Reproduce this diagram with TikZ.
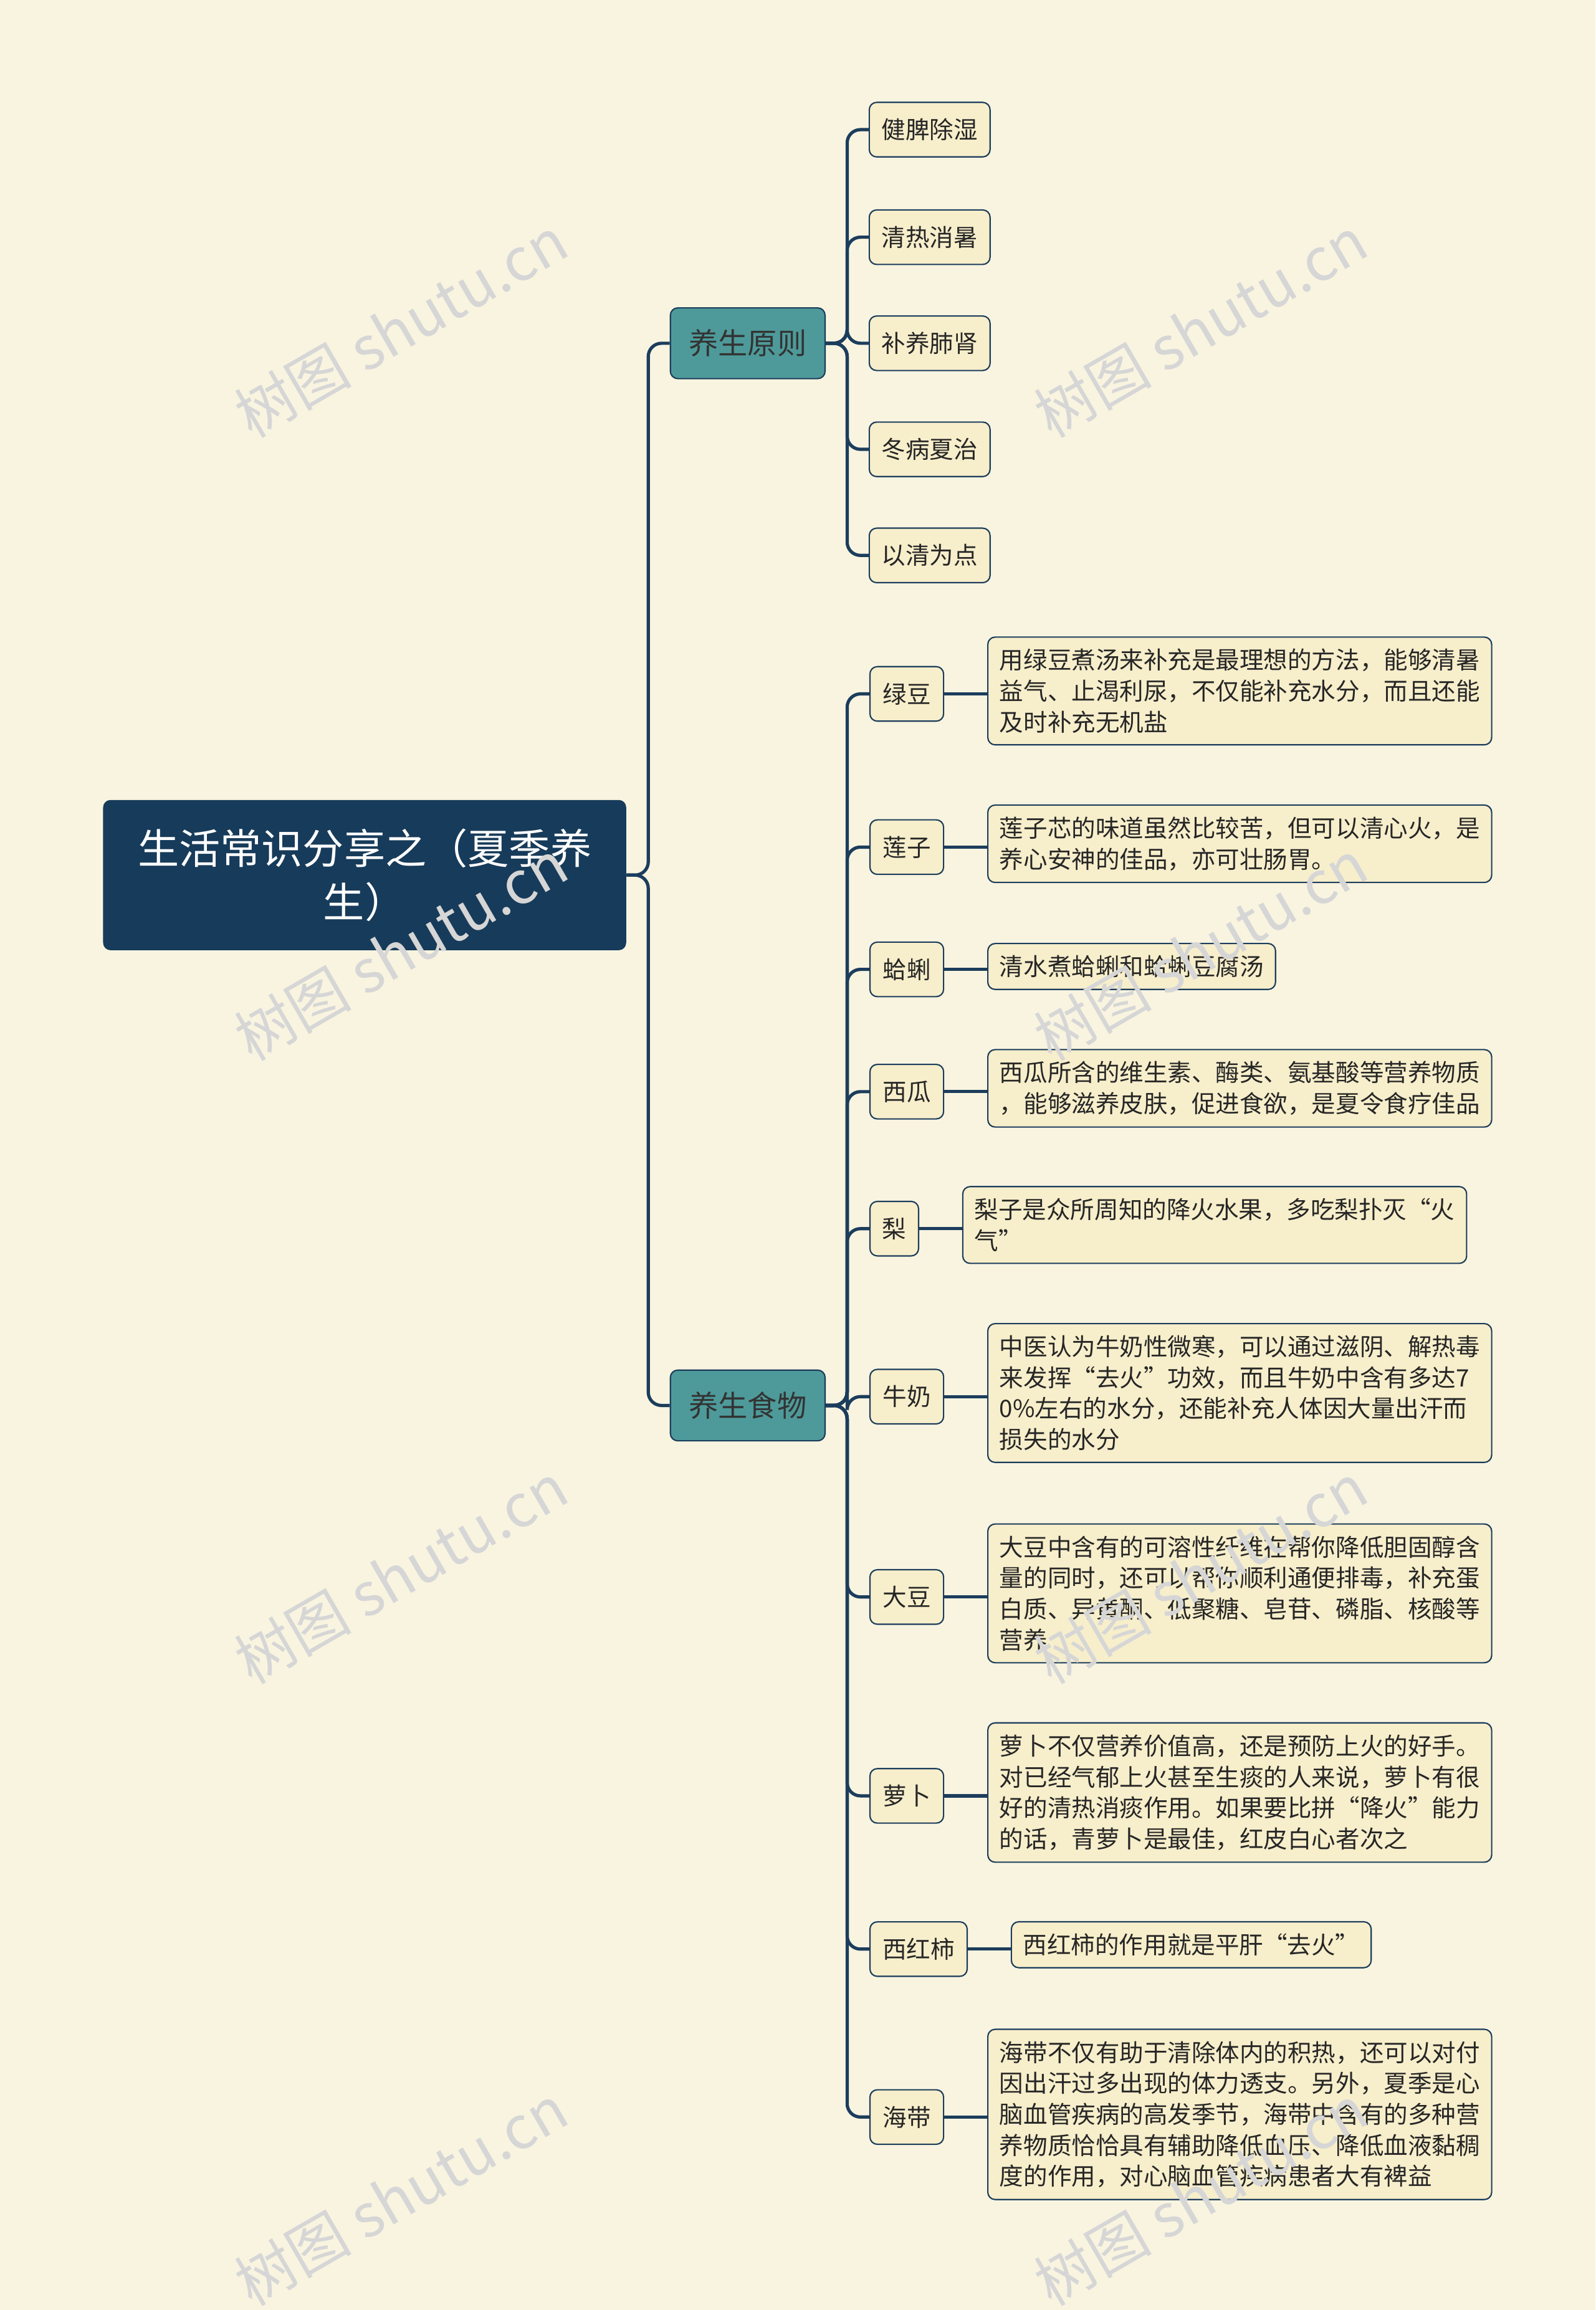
\documentclass[tikz,border=0pt]{standalone}
\usepackage{fontspec}
\setmainfont{Noto Sans CJK SC}
\begin{document}
\begin{tikzpicture}[x=1pt,y=-1pt,
 conn/.style={draw=linec,line width=2.2pt,rounded corners=9pt},
 leaf/.style={draw=linec,fill=leafc,rounded corners=5pt,line width=0.9pt,inner sep=0pt,font=\fontsize{16.3}{21}\selectfont,text=black!85},
 desc/.style={leaf,align=left,anchor=north west,inner xsep=8pt,inner ysep=8pt},
 br/.style={draw=linec,fill=brc,rounded corners=5pt,line width=0.9pt,minimum width=105pt,minimum height=48pt,font=\fontsize{20}{24}\selectfont,text=black!80},
 wm/.style={text=black!16,font=\fontsize{40}{42}\selectfont,rotate=30}]
\definecolor{bg}{HTML}{F8F4E0}
\definecolor{linec}{HTML}{1C3D5C}
\definecolor{leafc}{HTML}{F7EECB}
\definecolor{brc}{HTML}{4E9A9A}
\definecolor{rootc}{HTML}{173B5A}
\fill[bg] (0,0) rectangle (1083,1568);
\useasboundingbox (0,0) rectangle (1083,1568);
\node[fill=rootc,rounded corners=5pt,minimum width=355pt,minimum height=102pt,align=center,text=white,font=\fontsize{28}{36}\selectfont] (root) at (247.5,594) {生活常识分享之（夏季养\\生）};
\node[br] (b1) at (507.5,233) {养生原则};
\node[br] (b2) at (507.5,954) {养生食物};
\draw[conn] (root.east) -- (440,594) |- (b1.west);
\draw[conn] (root.east) -- (440,594) |- (b2.west);
\foreach \t/\y [count=\i] in {健脾除湿/88,清热消暑/161,补养肺肾/233,冬病夏治/305,以清为点/377}{
 \node[leaf,minimum width=82pt,minimum height=37pt] (p\i) at (631,\y) {\t};
 \draw[conn] (b1.east) -- (575,233) |- (p\i.west);
}
\foreach \t/\y/\w [count=\i] in {绿豆/471/50,莲子/575/50,蛤蜊/658/50,西瓜/741/50,梨/834/33,牛奶/948/50,大豆/1084/50,萝卜/1219/50,西红柿/1323/66,海带/1437/50}{
 \node[leaf,minimum width=\w pt,minimum height=37pt,anchor=west] (f\i) at (590,\y) {\t};
 \draw[conn] (b2.east) -- (575,954) |- (f\i.west);
}
\node[desc] (d1) at (670,432) {用绿豆煮汤来补充是最理想的方法，能够清暑\\益气、止渴利尿，不仅能补充水分，而且还能\\及时补充无机盐};
\node[desc] (d2) at (670,546) {莲子芯的味道虽然比较苦，但可以清心火，是\\养心安神的佳品，亦可壮肠胃。};
\node[desc] (d3) at (670,640) {清水煮蛤蜊和蛤蜊豆腐汤};
\node[desc] (d4) at (670,712) {西瓜所含的维生素、酶类、氨基酸等营养物质\\，能够滋养皮肤，促进食欲，是夏令食疗佳品};
\node[desc] (d5) at (653,805) {梨子是众所周知的降火水果，多吃梨扑灭“火\\气”};
\node[desc] (d6) at (670,898) {中医认为牛奶性微寒，可以通过滋阴、解热毒\\来发挥“去火”功效，而且牛奶中含有多达7\\0\%左右的水分，还能补充人体因大量出汗而\\损失的水分};
\node[desc] (d7) at (670,1034) {大豆中含有的可溶性纤维在帮你降低胆固醇含\\量的同时，还可以帮你顺利通便排毒，补充蛋\\白质、异黄酮、低聚糖、皂苷、磷脂、核酸等\\营养};
\node[desc] (d8) at (670,1169) {萝卜不仅营养价值高，还是预防上火的好手。\\对已经气郁上火甚至生痰的人来说，萝卜有很\\好的清热消痰作用。如果要比拼“降火”能力\\的话，青萝卜是最佳，红皮白心者次之};
\node[desc] (d9) at (686,1304) {西红柿的作用就是平肝“去火”};
\node[desc] (d10) at (670,1377) {海带不仅有助于清除体内的积热，还可以对付\\因出汗过多出现的体力透支。另外，夏季是心\\脑血管疾病的高发季节，海带中含有的多种营\\养物质恰恰具有辅助降低血压、降低血液黏稠\\度的作用，对心脑血管疾病患者大有裨益};
\foreach \i in {1,...,10}{\draw[conn] (f\i.east) -- (d\i.west |- f\i.east);}
\foreach \x/\y in {272/222,815/222,272/645,815/645,272/1068,815/1068,272/1490,815/1490}{
 \node[wm] at (\x,\y) {树图 shutu.cn};}
\end{tikzpicture}
\end{document}
